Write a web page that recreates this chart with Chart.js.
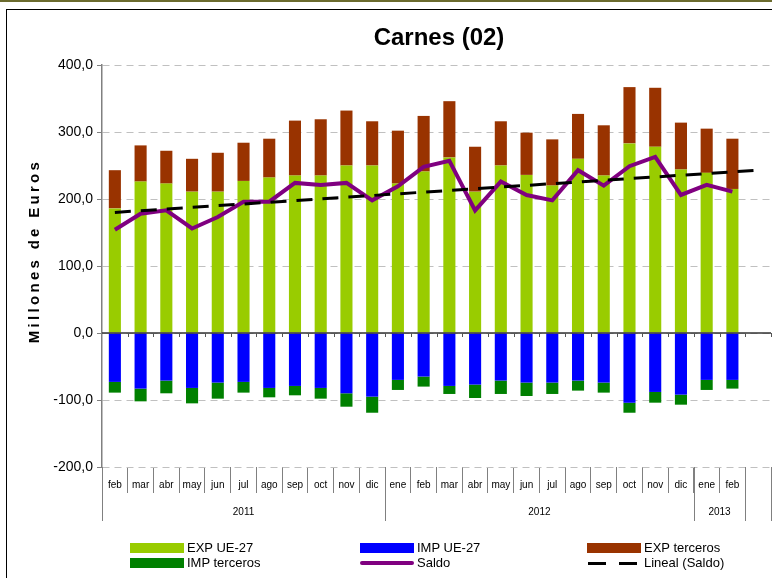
<!DOCTYPE html>
<html>
<head>
<meta charset="utf-8">
<script src="https://cdn.jsdelivr.net/npm/chart.js@4.4.0/dist/chart.umd.min.js"></script>
<style>
    body { margin: 0; background: #fff; }
    #wrap { position: relative; width: 772px; height: 578px; overflow: hidden; background: #fff; }
    #topline { position: absolute; left: 0; top: 0; width: 772px; height: 2px; background: #6b6b2e; }
    #frame { position: absolute; left: 6px; top: 9px; width: 820px; height: 620px; border-left: 1px solid #000; border-top: 1px solid #000; }
    #chart { position: absolute; left: 0; top: 0; }
    .leg-txt { position: absolute; font: 13px 'Liberation Sans', Arial, sans-serif; color: #000; line-height: 14px; white-space: nowrap; }
    .leg-sw { position: absolute; }
</style>
</head>
<body>
<div id="wrap">
    <div id="topline"></div>
    <div id="frame"></div>
    <canvas id="chart" width="772" height="578"></canvas>
    <div id="legend"></div>
</div>
<script>
// Meses (la última categoría queda vacía, como en el original)
const months = ['feb', 'mar', 'abr', 'may', 'jun', 'jul', 'ago', 'sep', 'oct', 'nov', 'dic',
    'ene', 'feb', 'mar', 'abr', 'may', 'jun', 'jul', 'ago', 'sep', 'oct', 'nov', 'dic',
    'ene', 'feb', ''];
const years = ['2011', '2012', '2013', ''];
const yearStart = [0, 11, 23, 25, 26]; // límites de cada año en índices de categoría

const expUE = [186, 226, 223, 211, 211, 227, 232, 235, 235, 250, 250,
    223, 241, 262, 211, 250, 236, 220, 260, 235, 283, 278, 244,
    239, 215];
const expTerceros = [57, 54, 49, 49, 58, 57, 58, 82, 84, 82, 66,
    79, 83, 84, 67, 66, 63, 69, 67, 75, 84, 88, 70,
    66, 75];
const impUE = [-73, -83, -71, -82, -74, -73, -82, -79, -82, -90, -95,
    -70, -65, -79, -77, -71, -74, -74, -71, -74, -104, -88, -92,
    -70, -70];
const impTerceros = [-16, -19, -19, -23, -24, -16, -14, -14, -16, -20, -24,
    -15, -15, -12, -20, -20, -20, -17, -15, -15, -15, -16, -15,
    -15, -13];
const saldo = [154, 178, 183, 156, 173, 196, 196, 224, 221, 224, 198,
    219, 248, 257, 183, 226, 206, 198, 243, 220, 249, 263, 206,
    221, 211];
// Línea de tendencia: sólo los extremos
const lineal = [180, null, null, null, null, null, null, null, null, null, null,
    null, null, null, null, null, null, null, null, null, null, null, null,
    null, null, 243];

const yTicks = [-200, -100, 0, 100, 200, 300, 400];

const FONT = "'Liberation Sans', Arial, sans-serif";

function fmt(v) {
    return v.toFixed(1).replace('.', ',');
}

// Plugin para título, eje Y, línea de cero y etiquetas de años
const extras = {
    id: 'extras',
    afterDatasetsDraw(chart) {
        const ctx = chart.ctx;
        const area = chart.chartArea;
        const y = chart.scales.y;
        const y0 = y.getPixelForValue(0);
        const step = (area.right - area.left) / months.length;
        ctx.save();
        // línea de cero con pequeñas marcas
        ctx.strokeStyle = '#333';
        ctx.lineWidth = 1.5;
        ctx.beginPath();
        ctx.moveTo(area.left, y0);
        ctx.lineTo(area.right, y0);
        ctx.stroke();
        ctx.lineWidth = 1;
        ctx.strokeStyle = '#555';
        for (let i = 1; i <= months.length; i++) {
            const px = Math.round(area.left + i * step) + 0.5;
            ctx.beginPath();
            ctx.moveTo(px, y0);
            ctx.lineTo(px, y0 + 4);
            ctx.stroke();
        }
        ctx.restore();
    },
    afterDraw(chart) {
        const ctx = chart.ctx;
        const area = chart.chartArea;
        const step = (area.right - area.left) / months.length;
        ctx.save();
        // separadores de años
        ctx.strokeStyle = '#808080';
        ctx.lineWidth = 1;
        yearStart.forEach(i => {
            const px = Math.round(area.left + i * step) + 0.5;
            ctx.beginPath();
            ctx.moveTo(px, area.bottom);
            ctx.lineTo(px, area.bottom + 54);
            ctx.stroke();
        });
        ctx.fillStyle = '#000';
        ctx.font = '10px ' + FONT;
        ctx.textAlign = 'center';
        ctx.textBaseline = 'middle';
        for (let k = 0; k < years.length; k++) {
            const cx = area.left + (yearStart[k] + yearStart[k + 1]) / 2 * step;
            ctx.fillText(years[k], cx, area.bottom + 45);
        }
        // título
        ctx.font = 'bold 24px ' + FONT;
        ctx.fillText('Carnes (02)', 439, 38);
        // título del eje Y
        ctx.translate(35, 251);
        ctx.rotate(-Math.PI / 2);
        ctx.font = 'bold 15px ' + FONT;
        ctx.letterSpacing = '3.3px';
        ctx.fillText('Millones de Euros', 0, 0);
        ctx.restore();
    }
};

const ctx = document.getElementById('chart').getContext('2d');
const chart = new Chart(ctx, {
    type: 'bar',
    data: {
        labels: months,
        datasets: [
            {
                type: 'line', label: 'Lineal (Saldo)', data: lineal, stack: 'lin',
                borderColor: '#000', borderWidth: 3, borderDash: [16, 10],
                pointRadius: 0, spanGaps: true, fill: false
            },
            {
                type: 'line', label: 'Saldo', data: saldo, stack: 'saldo',
                borderColor: '#800080', borderWidth: 4, pointRadius: 0,
                tension: 0, fill: false, borderJoinStyle: 'miter'
            },
            { label: 'EXP UE-27', data: expUE, backgroundColor: '#99cc00', stack: 'bars' },
            { label: 'EXP terceros', data: expTerceros, backgroundColor: '#993300', stack: 'bars' },
            { label: 'IMP UE-27', data: impUE, backgroundColor: '#0000ff', stack: 'bars' },
            { label: 'IMP terceros', data: impTerceros, backgroundColor: '#008000', stack: 'bars' }
        ]
    },
    options: {
        responsive: false,
        animation: false,
        layout: { padding: { left: 0, right: 1, top: 65, bottom: 0 } },
        datasets: {
            bar: { barPercentage: 0.47, categoryPercentage: 1 }
        },
        plugins: {
            legend: { display: false },
            title: { display: false },
            tooltip: { enabled: false }
        },
        scales: {
            x: {
                stacked: true,
                offset: true,
                grid: {
                    offset: true,
                    drawOnChartArea: false,
                    drawTicks: true,
                    tickLength: 26,
                    tickColor: '#808080'
                },
                border: { display: false },
                ticks: {
                    autoSkip: false,
                    maxRotation: 0,
                    padding: -14,
                    color: '#000',
                    font: { family: FONT, size: 10 }
                },
                afterFit(scale) { scale.height = 111; }
            },
            y: {
                stacked: true,
                min: -200,
                max: 400,
                afterBuildTicks(scale) {
                    scale.ticks = yTicks.map(v => ({ value: v }));
                },
                grid: {
                    color: '#c0c0c0',
                    tickColor: '#808080',
                    tickLength: 5,
                    tickBorderDash: []
                },
                border: { display: true, color: '#808080', width: 1.5, dash: [7, 5] },
                ticks: {
                    padding: 4,
                    color: '#000',
                    font: { family: FONT, size: 14 },
                    callback: v => fmt(v)
                },
                afterFit(scale) { scale.width = 102; }
            }
        }
    },
    plugins: [extras]
});

// Leyenda en HTML (tres columnas, dos filas)
const legendCols = [130, 360, 587];
const legendRows = [548, 563];
const legendOrder = ['EXP UE-27', 'IMP UE-27', 'EXP terceros', 'IMP terceros', 'Saldo', 'Lineal (Saldo)'];
const legendBox = document.getElementById('legend');
legendOrder.forEach((name, i) => {
    const ds = chart.data.datasets.find(d => d.label === name);
    const left = legendCols[i % 3];
    const cy = legendRows[Math.floor(i / 3)];
    if (ds.type === 'line') {
        if (ds.borderDash) {
            [[1, 18], [32, 18]].forEach(seg => {
                const s = document.createElement('div');
                s.className = 'leg-sw';
                s.style.cssText = `left:${left + seg[0]}px;top:${cy - 1.5}px;width:${seg[1]}px;height:3px;background:${ds.borderColor}`;
                legendBox.appendChild(s);
            });
        } else {
            const s = document.createElement('div');
            s.className = 'leg-sw';
            s.style.cssText = `left:${left}px;top:${cy - 2}px;width:54px;height:4px;border-radius:2px;background:${ds.borderColor}`;
            legendBox.appendChild(s);
        }
    } else {
        const s = document.createElement('div');
        s.className = 'leg-sw';
        s.style.cssText = `left:${left}px;top:${cy - 5}px;width:54px;height:10px;background:${ds.backgroundColor}`;
        legendBox.appendChild(s);
    }
    const t = document.createElement('div');
    t.className = 'leg-txt';
    t.style.left = (left + 57) + 'px';
    t.style.top = (cy - 7) + 'px';
    t.textContent = name;
    legendBox.appendChild(t);
});
</script>
</body>
</html>
